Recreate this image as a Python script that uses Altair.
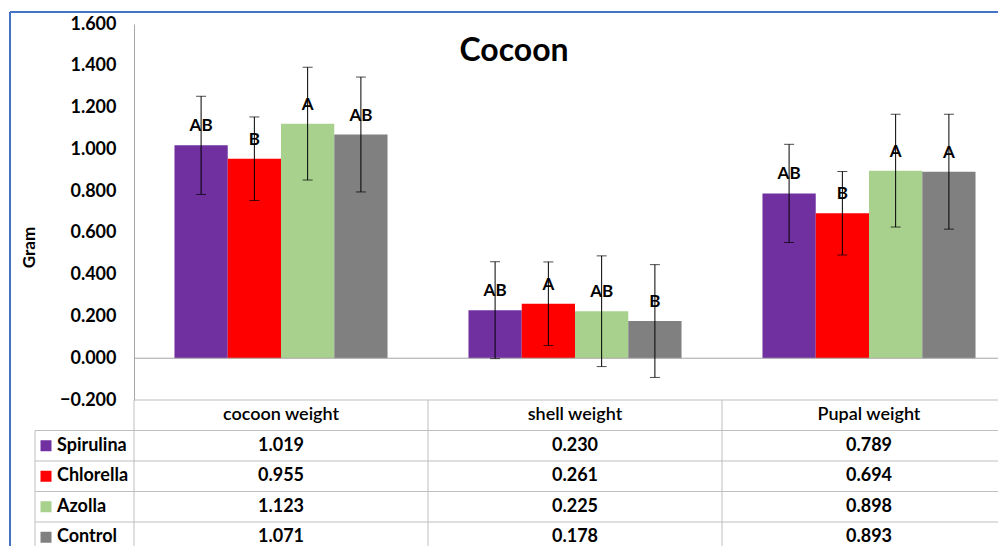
import altair as alt
import pandas as pd

# ---------------- data ----------------
categories = ["cocoon weight", "shell  weight", "Pupal weight"]
treatments = ["Spirulina", "Chlorella", "Azolla", "Control"]
colors = ["#7030A0", "#FF0000", "#A9D18E", "#808080"]

spirulina = [1.019, 0.230, 0.789]
chlorella = [0.955, 0.261, 0.694]
azolla = [1.123, 0.225, 0.898]
control = [1.071, 0.178, 0.893]

spirulina_err = [0.235, 0.232, 0.235]
chlorella_err = [0.200, 0.200, 0.200]
azolla_err = [0.270, 0.265, 0.270]
control_err = [0.275, 0.270, 0.275]

spirulina_let = ["AB", "AB", "AB"]
chlorella_let = ["B", "A", "B"]
azolla_let = ["A", "AB", "A"]
control_let = ["AB", "B", "A"]

y_ticks = [-0.2, 0.0, 0.2, 0.4, 0.6, 0.8, 1.0, 1.2, 1.4, 1.6]

means = [spirulina, chlorella, azolla, control]
errs = [spirulina_err, chlorella_err, azolla_err, control_err]
lets = [spirulina_let, chlorella_let, azolla_let, control_let]

recs = []
for t, m, e, l in zip(treatments, means, errs, lets):
    for i, c in enumerate(categories):
        recs.append({"cat": c, "treatment": t, "mean": m[i],
                     "lo": m[i] - e[i], "hi": m[i] + e[i],
                     "letter": l[i], "label": f"{m[i]:.3f}", "row": t})
df = pd.DataFrame(recs)
header_df = pd.DataFrame({"cat": categories, "row": ["header"] * 3, "label": categories})
rows = ["header"] + treatments
legend_df = pd.DataFrame({"row": treatments, "treatment": treatments})
one = pd.DataFrame({"z": [0.0]})

FONT = "Lato"
W, H = 864, 376      # visible plot width (page clips the rest)
XR = 882             # full extent of the three category bands
GRID = "#bfbfbf"

yscale = alt.Scale(domain=[-0.2, 1.6], nice=False, zero=False)
row_scale = alt.Scale(domain=rows, range=[376, 528.5], paddingInner=0, paddingOuter=0)
xscale = alt.Scale(domain=categories, range=[0, XR], paddingInner=0, paddingOuter=0)

X = alt.X("cat:N", sort=categories, scale=xscale, axis=None)
XO = alt.XOffset("treatment:N", sort=treatments, scale=alt.Scale(paddingInner=0, paddingOuter=0.76))
COLOR = alt.Color("treatment:N", sort=treatments,
                  scale=alt.Scale(domain=treatments, range=colors), legend=None)

yaxis = alt.Axis(values=y_ticks, format=".3f", labelFont=FONT, labelFontSize=18,
                 labelFontWeight="bold", labelColor="black", ticks=False, tickSize=0,
                 labelPadding=18, grid=False, domainColor="#a6a6a6", domainWidth=1,
                 title="Gram", titleFont=FONT, titleFontSize=17, titleFontWeight="bold",
                 titleColor="black", titleX=-96, titleY=223)

bars = alt.Chart(df).mark_bar().encode(
    x=X, xOffset=XO, y=alt.Y("mean:Q", scale=yscale, axis=yaxis), color=COLOR)

zero_line = alt.Chart(one).mark_rule(color="#a6a6a6", strokeWidth=1).encode(
    y=alt.Y("z:Q", scale=yscale, axis=None), x=alt.value(0), x2=alt.value(XR))

err_rule = alt.Chart(df).mark_rule(color="black", strokeWidth=1).encode(
    x=X, xOffset=XO, y=alt.Y("lo:Q", scale=yscale, axis=None), y2="hi:Q")
cap_lo = alt.Chart(df).mark_tick(color="black", thickness=1, size=10, orient="horizontal").encode(
    x=X, xOffset=XO, y=alt.Y("lo:Q", scale=yscale, axis=None))
cap_hi = alt.Chart(df).mark_tick(color="black", thickness=1, size=10, orient="horizontal").encode(
    x=X, xOffset=XO, y=alt.Y("hi:Q", scale=yscale, axis=None))

letters = alt.Chart(df).mark_text(font=FONT, fontSize=17, fontWeight="bold", color="black",
                                  baseline="middle", dy=-19).encode(
    x=X, xOffset=XO, y=alt.Y("mean:Q", scale=yscale, axis=None), text="letter:N")

title = alt.Chart(one).mark_text(text="Cocoon", font=FONT, fontSize=32, fontWeight="bold",
                                 color="black", baseline="alphabetic", align="center").encode(
    x=alt.value(380), y=alt.value(37))

# ---- data table ----
YR = alt.Y("row:N", sort=rows, scale=row_scale, axis=None)
table_vals = alt.Chart(df).mark_text(font=FONT, fontSize=18, fontWeight="bold", color="black",
                                     baseline="middle").encode(x=X, y=YR, text="label:N")
table_head = alt.Chart(header_df).mark_text(font=FONT, fontSize=18, fontWeight=600, color="black",
                                            baseline="middle").encode(x=X, y=YR, text="label:N")
hlines = alt.Chart(legend_df).mark_rule(color=GRID, strokeWidth=1).encode(
    y=alt.Y("row:N", sort=rows, scale=row_scale, axis=None, bandPosition=0),
    x=alt.value(-99), x2=alt.value(XR))
head_line = alt.Chart(header_df.head(1)).mark_rule(color=GRID, strokeWidth=1).encode(
    y=alt.Y("row:N", sort=rows, scale=row_scale, axis=None, bandPosition=0),
    x=alt.value(0), x2=alt.value(XR))
vlines = alt.Chart(header_df).mark_rule(color=GRID, strokeWidth=1).encode(
    x=alt.X("cat:N", sort=categories, scale=xscale, axis=None, bandPosition=0),
    y=alt.value(376), y2=alt.value(545))
left_line = alt.Chart(legend_df.head(1)).mark_rule(color=GRID, strokeWidth=1).encode(
    y=alt.Y("row:N", sort=rows, scale=row_scale, axis=None, bandPosition=0),
    y2=alt.value(545), x=alt.value(-99))
leg_sq = alt.Chart(legend_df).mark_square(size=121, opacity=1, filled=True).encode(
    x=alt.value(-88), y=YR, color=COLOR)
leg_txt = alt.Chart(legend_df).mark_text(font=FONT, fontSize=18, fontWeight="bold", color="black",
                                         align="left", baseline="middle").encode(
    x=alt.value(-77), y=YR, text="treatment:N")

# ---- outer blue frame ----
frame_top = alt.Chart(one).mark_rule(color="#4472C4", strokeWidth=2).encode(
    x=alt.value(-124), x2=alt.value(XR), y=alt.value(-12))
frame_left = alt.Chart(one).mark_rule(color="#4472C4", strokeWidth=2).encode(
    x=alt.value(-124), y=alt.value(-12), y2=alt.value(545))

chart = alt.layer(
    bars, zero_line, err_rule, cap_lo, cap_hi, letters, title,
    head_line, hlines, vlines, left_line, table_vals, table_head, leg_sq, leg_txt,
    frame_top, frame_left
).resolve_scale(y="independent").properties(
    width=W, height=H,
    padding={"left": 126, "top": 16, "right": 0, "bottom": 150},
    autosize=alt.AutoSizeParams(type="none"),
    background="white",
).configure_view(strokeWidth=0)

chart.save("out.html", embed_options={"renderer": "svg", "actions": False})
